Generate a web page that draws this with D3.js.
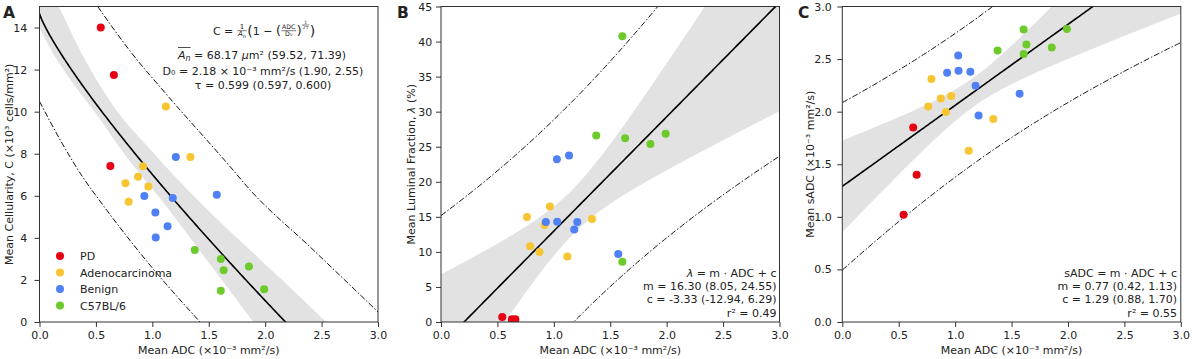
<!DOCTYPE html>
<html><head><meta charset="utf-8">
<script src="https://cdn.jsdelivr.net/npm/d3@7"></script>
<style>
body{margin:0;background:#fff}
text{font-family:"DejaVu Sans",sans-serif;fill:#222;white-space:pre}
</style>
</head><body>
<svg id="c" width="1192" height="359"></svg>
<script>
// ---------------- data ----------------
const groups = ["PD", "Adenocarcinoma", "Benign", "C57BL/6"];
const groupColors = ["#e60012", "#f7c531", "#4f80f5", "#6cca2b"];

// mean ADC (x10^-3 mm^2/s) per sample, by group
const adcPD     = [0.543, 0.628, 0.659];
const adcAdeno  = [0.762, 0.790, 0.873, 0.918, 0.965, 1.120, 1.338];
const adcBenign = [0.929, 1.027, 1.030, 1.135, 1.181, 1.208, 1.571];
const adcC57    = [1.376, 1.607, 1.607, 1.632, 1.856, 1.991];

// Panel A: mean cellularity (x10^3 cells/mm^2)
const cellPD     = [14.0, 7.42, 11.74];
const cellAdeno  = [6.60, 5.72, 6.90, 7.41, 6.44, 10.25, 7.85];
const cellBenign = [5.99, 5.21, 4.02, 4.55, 5.90, 7.84, 6.05];
const cellC57    = [3.42, 2.99, 1.48, 2.46, 2.64, 1.56];

// Panel B: mean luminal fraction (%)
const lumPD     = [0.72, 0.38, 0.38];
const lumAdeno  = [14.97, 10.79, 9.98, 13.83, 16.49, 9.36, 14.68];
const lumBenign = [14.25, 23.2, 14.3, 23.76, 13.2, 14.25, 9.7];
const lumC57    = [26.6, 40.77, 8.6, 26.2, 25.4, 26.85];

// Panel C: mean sADC (x10^-3 mm^2/s)
const sadcPD     = [1.02, 1.85, 1.40];
const sadcAdeno  = [2.05, 2.31, 2.125, 1.996, 2.148, 1.628, 1.93];
const sadcBenign = [2.37, 2.534, 2.39, 2.38, 2.246, 1.964, 2.17];
const sadcC57    = [2.582, 2.781, 2.548, 2.639, 2.61, 2.786];

// Panel A model parameters (from annotation)
const fitA = {An: 68.17, D0: 2.18, tau: 0.599};
// Panel A confidence band and prediction limits [ADC, C]
const aBandUpper = [[0, 16.8], [0.17, 15.0], [0.4, 12.5], [0.65, 10.3], [1.0, 8.1], [1.44, 5.6], [2.0, 2.75], [2.31, 1.19], [2.54, 0]];
const aBandLower = [[0, 14.0], [0.1, 12.95], [0.25, 11.7], [0.49, 9.98], [0.75, 8.0], [1.08, 5.8], [1.5, 2.82], [1.895, 0]];
const aPredUpper = [[0.516, 15.0], [0.8, 12.9], [1.121, 10.85], [1.689, 7.39], [1.866, 6.28], [2.398, 3.57], [3.0, 0.48]];
const aPredLower = [[0, 10.49], [0.2, 8.5], [0.388, 6.85], [0.536, 5.75], [0.98, 2.7], [1.423, 0]];

// Panel B / C linear fits (from annotations)
const fitB = {m: 16.30, c: -3.33, mLo: 8.05, mHi: 24.55};
const fitC = {m: 0.77, c: 1.29, mLo: 0.42, mHi: 1.13};
const tCrit = 2.0796; // t(0.975, df = 21)

const xTickVals = [0, 0.5, 1.0, 1.5, 2.0, 2.5, 3.0];
const yTicksA = [0, 2, 4, 6, 8, 10, 12, 14];
const yTicksB = [0, 5, 10, 15, 20, 25, 30, 35, 40, 45];
const yTicksC = [0, 0.5, 1.0, 1.5, 2.0, 2.5, 3.0];

// ---------------- drawing ----------------
const svg = d3.select("#c");
const W = 338.5, TOP = 6.5, BOT = 322;
const adcAll = [adcPD, adcAdeno, adcBenign, adcC57];

function panel(cfg) {
  const x = d3.scaleLinear().domain([0, 3]).range([cfg.left, cfg.left + W]);
  const y = d3.scaleLinear().domain(cfg.yDomain).range([BOT, TOP]);
  const clipId = "clip" + cfg.key;
  svg.append("clipPath").attr("id", clipId).append("rect")
    .attr("x", cfg.left).attr("y", TOP).attr("width", W).attr("height", BOT - TOP);
  const plot = svg.append("g").attr("clip-path", `url(#${clipId})`);

  cfg.drawFit(plot, x, y);

  // points
  adcAll.forEach((xs, gi) => {
    plot.selectAll(null).data(xs.map((v, i) => [v, cfg.ys[gi][i]])).enter()
      .append("circle").attr("cx", d => x(d[0])).attr("cy", d => y(d[1]))
      .attr("r", 4).attr("fill", groupColors[gi]);
  });

  // axes
  const gx = svg.append("g").attr("transform", `translate(0,${BOT})`)
    .call(d3.axisBottom(x).tickValues(xTickVals).tickFormat(d3.format(".1f")).tickSize(5).tickPadding(3.7));
  const gy = svg.append("g").attr("transform", `translate(${cfg.left},0)`)
    .call(d3.axisLeft(y).tickValues(cfg.yTicks).tickFormat(cfg.yFmt).tickSize(5).tickPadding(cfg.ypad));
  [gx, gy].forEach(g => {
    g.select(".domain").remove();
    g.selectAll("line").attr("stroke", "#333");
    g.selectAll("text").style("font-size", "11px").style("font-family", "DejaVu Sans").attr("fill", "#222");
  });
  // frame
  svg.append("rect").attr("x", cfg.left).attr("y", TOP).attr("width", W).attr("height", BOT - TOP)
    .attr("fill", "none").attr("stroke", "#333").attr("stroke-width", 1);

  // axis labels
  const xl = svg.append("text").attr("x", cfg.left + W / 2).attr("y", 353.5)
    .attr("text-anchor", "middle").style("font-size", "11px");
  xl.append("tspan").text("Mean ADC (×10⁻³ mm²/s)");
  svg.append("text").attr("transform", `translate(${cfg.ylabelX},${(TOP + BOT) / 2}) rotate(-90)`)
    .attr("text-anchor", "middle").style("font-size", "11px").call(cfg.ylabel);

  // panel letter
  svg.append("text").attr("x", cfg.letterX).attr("y", 17.5).style("font-size", "15.5px")
    .style("font-weight", "bold").attr("fill", "#111").text(cfg.key);
  return {x, y};
}

const lineGen = (x, y) => d3.line().x(d => x(d[0])).y(d => y(d[1]));
const dashDot = "6,2,1.5,2";

// ---- Panel A ----
const modelA = v => (1000 / fitA.An) * (1 - Math.pow(v / fitA.D0, 1 / (2 * fitA.tau)));
panel({
  key: "A", left: 39.5, yDomain: [0, 15], yTicks: yTicksA, yFmt: d3.format("d"), ypad: 7.2,
  ys: [cellPD, cellAdeno, cellBenign, cellC57], ylabelX: 13, letterX: 3,
  ylabel: t => t.text("Mean Cellularity, C (×10³ cells/mm²)"),
  drawFit: (g, x, y) => {
    const up = d3.line().x(d => x(d[0])).y(d => y(d[1])).curve(d3.curveMonotoneX);
    g.append("path").attr("d", up(aBandUpper) + "L" + up(aBandLower.slice().reverse()).slice(1) + "Z")
      .attr("fill", "#e2e2e2").attr("stroke", "none");
    [aPredUpper, aPredLower].forEach(p => g.append("path").attr("d", up(p)).attr("fill", "none")
      .attr("stroke", "#111").attr("stroke-width", 1).attr("stroke-dasharray", dashDot));
    const xs = d3.range(0, 3.0001, 0.01);
    g.append("path").attr("d", lineGen(x, y)(xs.map(v => [v, modelA(v)])))
      .attr("fill", "none").attr("stroke", "#000").attr("stroke-width", 1.6);
  }
});

// legend A
groups.forEach((name, i) => {
  const cy = 256 + i * 16.5;
  svg.append("circle").attr("cx", 60).attr("cy", cy).attr("r", 4).attr("fill", groupColors[i]);
  svg.append("text").attr("x", 80).attr("y", cy + 4).style("font-size", "11px").text(name);
});

// annotation A
function buildFormula(cx, by) {
  const f = svg.append("g");
  let x = 0;
  const put = (s, size, dy = 0) => {
    const t = f.append("text").attr("x", x).attr("y", by + dy).style("font-size", size + "px").text(s);
    x += t.node().getComputedTextLength();
    return t;
  };
  const frac = (numFn, denFn, size, axisY) => {
    const n = f.append("text").style("font-size", size + "px").attr("text-anchor", "middle").call(numFn);
    const d = f.append("text").style("font-size", size + "px").attr("text-anchor", "middle").call(denFn);
    const w = Math.max(n.node().getComputedTextLength(), d.node().getComputedTextLength()) + 1.5;
    n.attr("x", x + w / 2 + 0.5).attr("y", axisY - 1.3);
    d.attr("x", x + w / 2 + 0.5).attr("y", axisY + size * 0.82);
    f.append("line").attr("x1", x + 0.5).attr("x2", x + w + 0.5).attr("y1", axisY).attr("y2", axisY)
      .attr("stroke", "#222").attr("stroke-width", 0.6);
    x += w + 1;
  };
  put("C = ", 11);
  frac(t => t.text("1"), t => { t.append("tspan").style("font-style", "italic").text("A"); t.append("tspan").attr("dy", 1.5).style("font-size", "5px").text("n"); }, 7, by - 3.8);
  put("(", 14, 1);
  put("1 − ", 11);
  put("(", 12.5, 0.5);
  frac(t => t.text("ADC"), t => t.text("D₀"), 6.2, by - 3.8);
  put(")", 12.5, 0.5);
  frac(t => t.text("1"), t => t.text("2τ"), 4.5, by - 9.5);
  put(")", 14, 1);
  f.attr("transform", `translate(${cx - x / 2},0)`);
}
buildFormula(264, 34.5);
{
  const t = svg.append("text").attr("x", 262).attr("y", 58.5).attr("text-anchor", "middle").style("font-size", "11px");
  t.append("tspan").style("font-style", "italic").text("A");
  t.append("tspan").attr("dy", 2.5).style("font-size", "8px").style("font-style", "italic").text("n");
  t.append("tspan").attr("dy", -2.5).text(" = 68.17 ");
  t.append("tspan").style("font-style", "italic").text("μ");
  t.append("tspan").text("m² (59.52, 71.39)");
  const n = t.node();
  const x0 = n.getStartPositionOfChar(0).x, x1 = n.getEndPositionOfChar(1).x;
  svg.append("line").attr("x1", x0).attr("x2", x1).attr("y1", 47.5).attr("y2", 47.5).attr("stroke", "#222").attr("stroke-width", 0.8);
}
svg.append("text").attr("x", 263).attr("y", 75).attr("text-anchor", "middle").style("font-size", "11px")
  .text("D₀ = 2.18 × 10⁻³ mm²/s (1.90, 2.55)");
svg.append("text").attr("x", 263).attr("y", 88.5).attr("text-anchor", "middle").style("font-size", "11px")
  .text("τ = 0.599 (0.597, 0.600)");

// ---- linear panels ----
function linearFit(fit) {
  const xsAll = adcAll.flat();
  const n = xsAll.length, xbar = d3.mean(xsAll);
  const sxx = d3.sum(xsAll, v => (v - xbar) ** 2);
  const seM = (fit.mHi - fit.mLo) / (2 * tCrit);
  return (g, x, y) => {
    const xs = d3.range(0, 3.0001, 0.02);
    const ci = v => tCrit * seM * Math.sqrt(sxx / n + (v - xbar) ** 2);
    const pi = v => tCrit * seM * Math.sqrt(sxx + sxx / n + (v - xbar) ** 2);
    const yhat = v => fit.m * v + fit.c;
    g.append("path").datum(xs).attr("d", d3.area().x(v => x(v)).y0(v => y(yhat(v) - ci(v))).y1(v => y(yhat(v) + ci(v))))
      .attr("fill", "#e2e2e2");
    [1, -1].forEach(s => g.append("path").attr("d", lineGen(x, y)(xs.map(v => [v, yhat(v) + s * pi(v)])))
      .attr("fill", "none").attr("stroke", "#111").attr("stroke-width", 1).attr("stroke-dasharray", dashDot));
    g.append("path").attr("d", lineGen(x, y)(xs.map(v => [v, yhat(v)])))
      .attr("fill", "none").attr("stroke", "#000").attr("stroke-width", 1.6);
  };
}

panel({
  key: "B", left: 441, yDomain: [0, 45], yTicks: yTicksB, yFmt: d3.format("d"), ypad: 3.7,
  ys: [lumPD, lumAdeno, lumBenign, lumC57], ylabelX: 415, letterX: 397,
  ylabel: t => { t.append("tspan").text("Mean Luminal Fraction, "); t.append("tspan").style("font-style", "italic").text("λ"); t.append("tspan").text(" (%)"); },
  drawFit: linearFit(fitB)
});
panel({
  key: "C", left: 842.3, yDomain: [0, 3], yTicks: yTicksC, yFmt: d3.format(".1f"), ypad: 5.6,
  ys: [sadcPD, sadcAdeno, sadcBenign, sadcC57], ylabelX: 814, letterX: 798,
  ylabel: t => t.text("Mean sADC (×10⁻³ mm²/s)"),
  drawFit: linearFit(fitC)
});

// annotations B and C
function annot(xr, lines) {
  const base = [276.5, 290, 303, 316.5];
  lines.forEach((fn, i) => {
    const t = svg.append("text").attr("x", xr).attr("y", base[i]).attr("text-anchor", "end").style("font-size", "11px");
    fn(t);
  });
}
annot(776.5, [
  t => { t.append("tspan").style("font-style", "italic").text("λ"); t.append("tspan").text(" = m · ADC + c"); },
  t => t.text("m = 16.30 (8.05, 24.55)"),
  t => t.text("c = -3.33 (-12.94, 6.29)"),
  t => t.text("r² = 0.49")
]);
annot(1177, [
  t => t.text("sADC = m · ADC + c"),
  t => t.text("m = 0.77 (0.42, 1.13)"),
  t => t.text("c = 1.29 (0.88, 1.70)"),
  t => t.text("r² = 0.55")
]);
</script>
</body></html>
